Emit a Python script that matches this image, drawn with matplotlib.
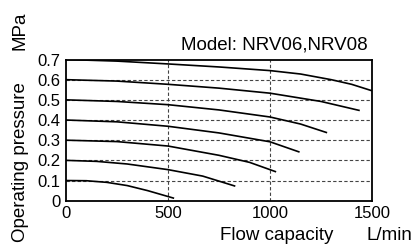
import matplotlib.pyplot as plt

plt.rcParams['font.family'] = ['Liberation Sans', 'DejaVu Sans']

# flow (L/min) and pressure (MPa), one per set pressure
q_07 = [0, 250, 500, 750, 1000, 1150, 1300, 1400, 1500]
p_07 = [0.700, 0.692, 0.678, 0.663, 0.645, 0.628, 0.600, 0.577, 0.545]

q_06 = [0, 250, 500, 750, 1000, 1250, 1440]
p_06 = [0.600, 0.593, 0.577, 0.558, 0.533, 0.492, 0.447]

q_05 = [0, 250, 500, 750, 1000, 1150, 1280]
p_05 = [0.500, 0.492, 0.476, 0.450, 0.415, 0.380, 0.337]

q_04 = [0, 250, 500, 750, 1000, 1145]
p_04 = [0.400, 0.391, 0.369, 0.336, 0.292, 0.241]

q_03 = [0, 250, 500, 750, 900, 1030]
p_03 = [0.300, 0.293, 0.271, 0.225, 0.190, 0.143]

q_02 = [0, 150, 300, 500, 670, 830]
p_02 = [0.200, 0.195, 0.182, 0.154, 0.122, 0.072]

q_01 = [0, 100, 200, 300, 400, 530]
p_01 = [0.100, 0.099, 0.091, 0.075, 0.050, 0.012]

curves = [(q_07, p_07), (q_06, p_06), (q_05, p_05), (q_04, p_04),
          (q_03, p_03), (q_02, p_02), (q_01, p_01)]

x_ticks = [0, 500, 1000, 1500]
y_ticks = [0, 0.1, 0.2, 0.3, 0.4, 0.5, 0.6, 0.7]
y_tick_labels = ["0", "0.1", "0.2", "0.3", "0.4", "0.5", "0.6", "0.7"]

W, H = 418, 249


def px(x, y):
    # pixel position in the picture -> figure fraction
    return x / W, 1 - y / H


fig = plt.figure(figsize=(W / 100, H / 100), dpi=100)
ax = fig.add_axes([66 / W, 1 - 200.7 / H, (372 - 66) / W, (200.7 - 59.5) / H])

# dashed grid
for v in x_ticks[1:-1]:
    ax.axvline(v, color="#444444", linewidth=0.8, linestyle=(0, (3, 2)), zorder=1)
for v in y_ticks[1:-1]:
    ax.axhline(v, color="#444444", linewidth=0.8, linestyle=(0, (3, 2)), zorder=1)

for q, p in curves:
    ax.plot(q, p, color="black", linewidth=1.2, zorder=2, solid_capstyle="butt")

ax.set_xlim(0, 1500)
ax.set_ylim(0, 0.7)
ax.set_xticks(x_ticks)
ax.set_yticks(y_ticks)
ax.set_yticklabels(y_tick_labels)
ax.tick_params(length=0, labelsize=12, pad=4, colors="black")
for s in ax.spines.values():
    s.set_linewidth(1.3)
    s.set_color("black")

fs = 13.5
fig.text(*px(368, 49), "Model: NRV06,NRV08", ha="right", va="baseline", fontsize=fs)
fig.text(*px(277, 240), "Flow capacity", ha="center", va="baseline", fontsize=fs)
fig.text(*px(389, 240), "L/min", ha="center", va="baseline", fontsize=fs)
fig.text(*px(25, 162), "Operating pressure", ha="center", va="baseline",
         rotation=90, rotation_mode="anchor", fontsize=fs)
fig.text(*px(25, 31), "MPa", ha="center", va="baseline",
         rotation=90, rotation_mode="anchor", fontsize=fs)

fig.savefig("out.png", dpi=100)
